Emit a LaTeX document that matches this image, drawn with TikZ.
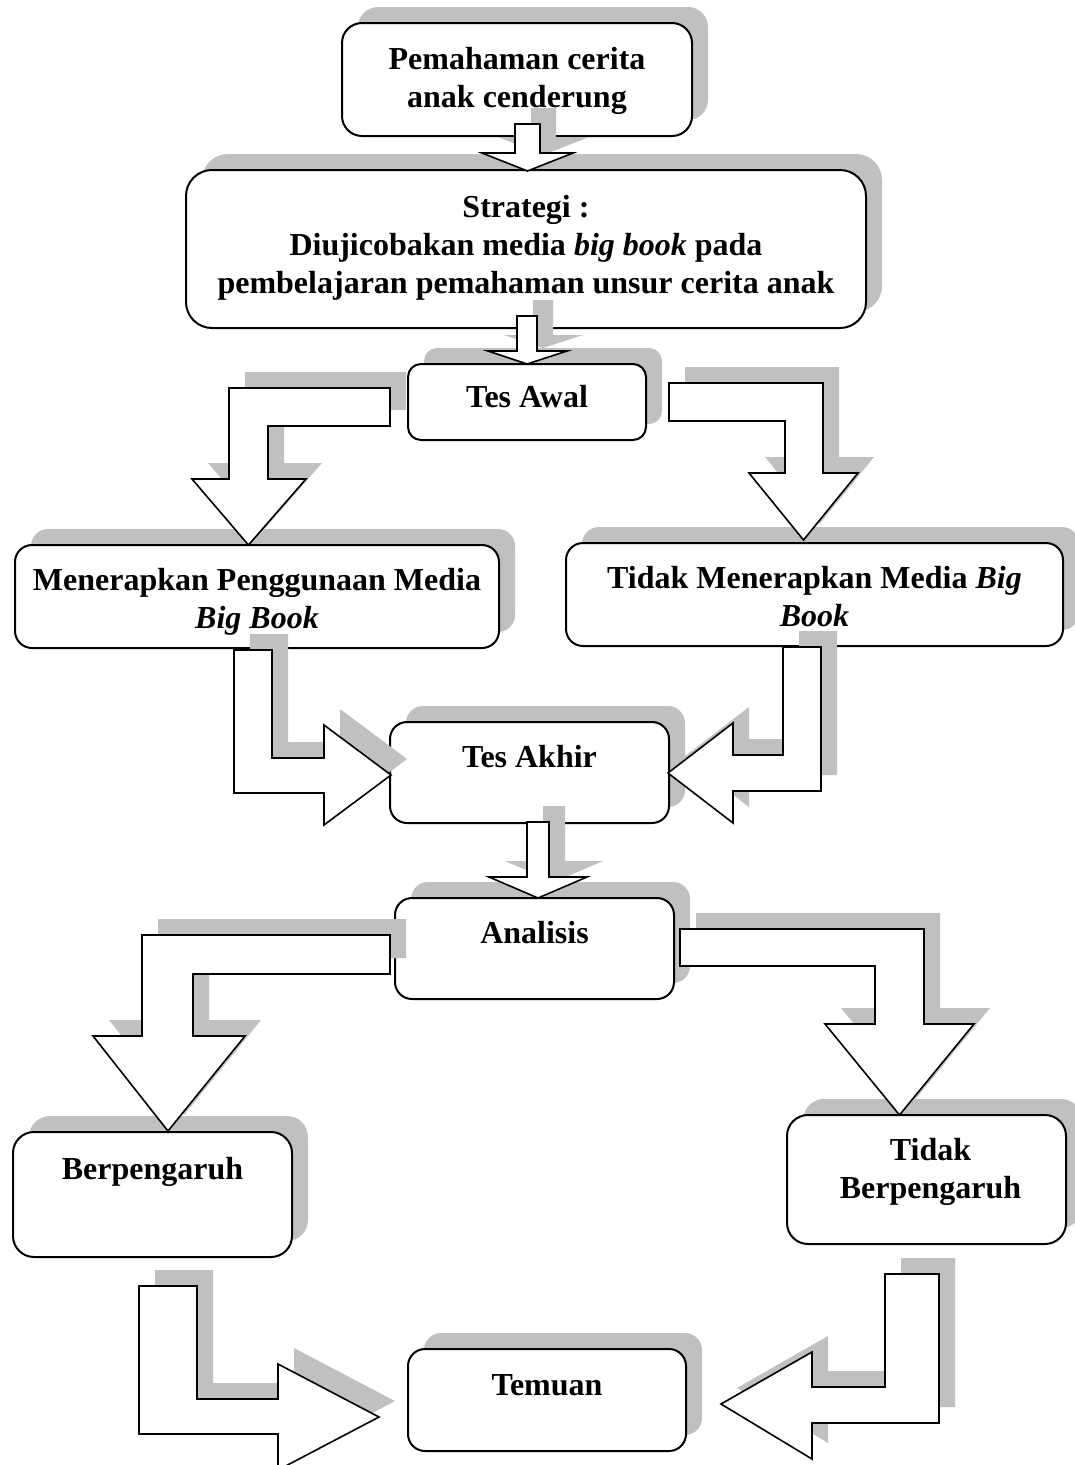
\documentclass[tikz,border=0pt]{standalone}
\usepackage{fontspec}
\setmainfont{Liberation Serif}
\usepackage{tikz}
\usetikzlibrary{positioning}
\definecolor{shadowgray}{HTML}{C0C0C0}

\begin{document}
\begin{tikzpicture}[x=1pt, y=-1pt]

% --- Style Definitions ---
% grey shadow shifted up and right
\tikzstyle{shadowed}=[preaction={fill=shadowgray, draw=none, transform canvas={shift={(16pt,16pt)}}}]
% rounded text boxes
\tikzstyle{box}=[shadowed, draw, fill=white, line width=2pt, rounded corners=17pt, inner sep=0pt]
\tikzstyle{txt}=[font=\fontsize{32}{38}\selectfont\bfseries, align=center, inner sep=0pt]
% white block arrows
\tikzstyle{blockarrow}=[shadowed, draw, fill=white, line width=1.6pt, line join=miter]

\useasboundingbox (0,0) rectangle (1075,1465);

% --- Define Boxes ---
\node[box, minimum width=350pt, minimum height=113pt, rounded corners=20pt] (pemahaman) at (517,79.5) {};
\node[box, minimum width=680pt, minimum height=158pt, rounded corners=26pt] (strategi) at (526,249) {};
\node[box, minimum width=238pt, minimum height=76pt, rounded corners=13pt] (tesawal) at (527,402) {};
\node[box, minimum width=484pt, minimum height=103pt] (menerapkan) at (257,596.5) {};
\node[box, minimum width=497pt, minimum height=103pt] (tidakmenerapkan) at (814.5,594.5) {};
\node[box, minimum width=279pt, minimum height=101pt] (tesakhir) at (529.5,772.5) {};
\node[box, minimum width=279pt, minimum height=101pt] (analisis) at (534.5,948.5) {};
\node[box, minimum width=279pt, minimum height=125pt, rounded corners=21pt] (berpengaruh) at (152.5,1194.5) {};
\node[box, minimum width=279pt, minimum height=129pt, rounded corners=21pt] (tidakberpengaruh) at (926.5,1179.5) {};
\node[box, minimum width=278pt, minimum height=102pt] (temuan) at (547,1400) {};

% --- Box Texts ---
\node[txt, below=25pt of pemahaman.north] (pemahaman-txt) {Pemahaman cerita\\anak cenderung};
\node[txt, below=26pt of strategi.north] (strategi-txt) {Strategi :\\Diujicobakan media \textit{big book} pada\\pembelajaran pemahaman unsur cerita anak};
\node[txt, below=22pt of tesawal.north] (tesawal-txt) {Tes Awal};
\node[txt, below=24.5pt of menerapkan.north] (menerapkan-txt) {Menerapkan Penggunaan Media\\\textit{Big Book}};
\node[txt, below=24pt of tidakmenerapkan.north] (tidakmenerapkan-txt) {Tidak Menerapkan Media \textit{Big}\\\textit{Book}};
\node[txt, below=24pt of tesakhir.north] (tesakhir-txt) {Tes Akhir};
\node[txt, below=24.5pt of analisis.north] (analisis-txt) {Analisis};
\node[txt, below=26pt of berpengaruh.north] (berpengaruh-txt) {Berpengaruh};
\node[txt, below=24pt of tidakberpengaruh.north, xshift=4pt] (tidakberpengaruh-txt) {Tidak\\Berpengaruh};
\node[txt, below=26pt of temuan.north] (temuan-txt) {Temuan};

% --- Block Arrows ---
% 1. straight down arrows
\draw[blockarrow] (515,124) -- (540,124) -- (540,153) -- (573,153) -- (527.5,171) -- (482,153) -- (515,153) -- cycle;
\draw[blockarrow] (517,316) -- (537,316) -- (537,351) -- (567,351) -- (527,364) -- (488,351) -- (517,351) -- cycle;
\draw[blockarrow] (527,822) -- (549,822) -- (549,877) -- (587,877) -- (538,898) -- (489,877) -- (527,877) -- cycle;

% 2. Tes Awal to both groups
\draw[blockarrow] (390,388) -- (229,388) -- (229,479) -- (192,479) -- (248.5,545) -- (306,479) -- (268,479) -- (268,426) -- (390,426) -- cycle;
\draw[blockarrow] (669,383) -- (823,383) -- (823,473) -- (858,473) -- (803.5,540) -- (749,473) -- (785,473) -- (785,421) -- (669,421) -- cycle;

% 3. both groups to Tes Akhir
\draw[blockarrow] (234,650) -- (272,650) -- (272,758) -- (324,758) -- (324,725) -- (391,775) -- (324,825) -- (324,793) -- (234,793) -- cycle;
\draw[blockarrow] (821,647) -- (783,647) -- (783,755) -- (733,755) -- (733,723) -- (668,773) -- (733,823) -- (733,791) -- (821,791) -- cycle;

% 4. Analisis to both results
\draw[blockarrow] (390,935) -- (142,935) -- (142,1036) -- (93,1036) -- (168,1131) -- (245,1036) -- (193,1036) -- (193,974) -- (390,974) -- cycle;
\draw[blockarrow] (680,929) -- (924,929) -- (924,1024) -- (974,1024) -- (899.5,1115) -- (825,1024) -- (875,1024) -- (875,966) -- (680,966) -- cycle;

% 5. both results to Temuan
\draw[blockarrow] (139,1286) -- (197,1286) -- (197,1399) -- (278,1399) -- (278,1364) -- (379,1417) -- (278,1470) -- (278,1434) -- (139,1434) -- cycle;
\draw[blockarrow] (939,1274) -- (885,1274) -- (885,1387) -- (812,1387) -- (812,1352) -- (721,1404) -- (812,1459) -- (812,1423) -- (939,1423) -- cycle;

\end{tikzpicture}
\end{document}
